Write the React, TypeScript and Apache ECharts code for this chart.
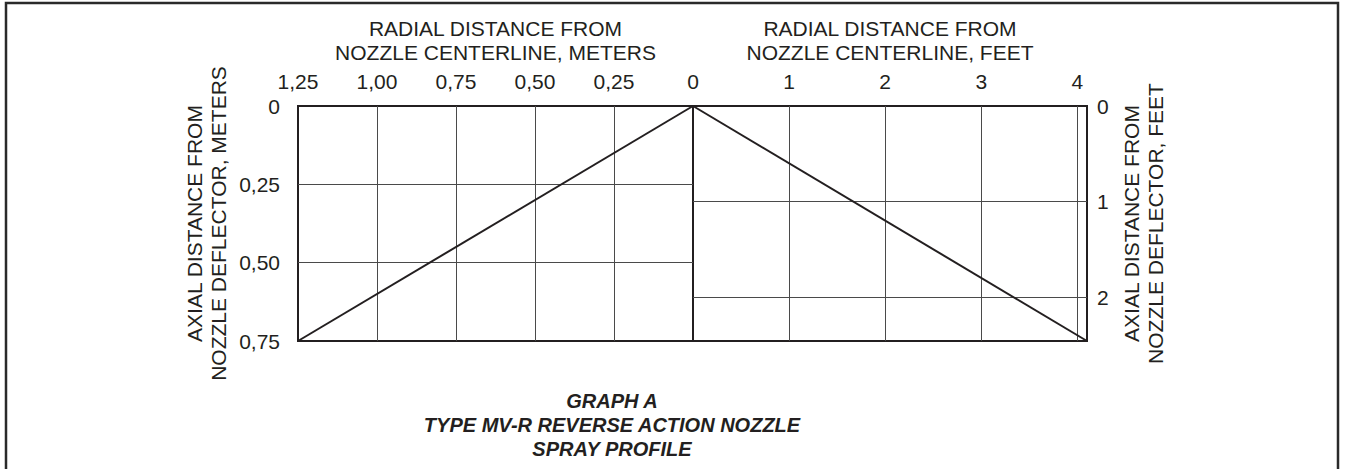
import React, { useEffect, useRef } from "react";
import * as echarts from "echarts";

// ---- data ----
const meterRadialMax = 1.25;
const meterAxialMax = 0.75;
const footRadialMax = 4.1;
const footAxialMax = 2.46;
const meterTickLabels = ["0", "0,25", "0,50", "0,75", "1,00", "1,25"];
const footTickLabels = ["0", "1", "2", "3", "4"];
const sprayMeters = [
  [0, 0],
  [1.25, 0.75],
];
const sprayFeet = [
  [0, 0],
  [4.1, 2.46],
];
const titleLines = ["GRAPH A", "TYPE MV-R REVERSE ACTION NOZZLE", "SPRAY PROFILE"];

const INK = "#231f20";
const GRIDLINE = "#4a4a4a";
const FONT = "'Liberation Sans', Arial, Helvetica, sans-serif";

function meterLabel(v: number): string {
  const i = Math.round(v / 0.25);
  if (Math.abs(v - i * 0.25) > 1e-6) return "";
  return meterTickLabels[i] ?? "";
}
function footLabel(v: number): string {
  const i = Math.round(v);
  if (Math.abs(v - i) > 1e-6) return "";
  return footTickLabels[i] ?? "";
}

export default function App() {
  const ref = useRef<HTMLDivElement>(null);
  useEffect(() => {
    if (!ref.current) return;
    const chart = echarts.init(ref.current, undefined, { renderer: "svg" });
    const labelStyle = { fontSize: 21, color: INK, fontFamily: FONT };
    const nameStyle = { fontSize: 21, color: INK, fontFamily: FONT, lineHeight: 24 };
    const split = {
      show: true,
      showMinLine: false,
      showMaxLine: false,
      lineStyle: { color: GRIDLINE, width: 1 },
    };
    chart.setOption({
      animation: false,
      backgroundColor: "#ffffff",
      grid: [
        { left: 298, top: 106, width: 395, height: 235, show: true, borderColor: INK, borderWidth: 2, backgroundColor: "transparent" },
        { left: 693, top: 106, width: 394, height: 235, show: true, borderColor: INK, borderWidth: 2, backgroundColor: "transparent" },
      ],
      xAxis: [
        {
          type: "value",
          gridIndex: 0,
          position: "top",
          inverse: true,
          min: 0,
          max: meterRadialMax,
          interval: 0.25,
          axisLine: { show: false },
          axisTick: { show: false },
          splitLine: split,
          axisLabel: {
            ...labelStyle,
            margin: 14,
            formatter: (v: number) => (v === 0 ? "" : meterLabel(v)),
          },
          name: "RADIAL DISTANCE FROM\nNOZZLE CENTERLINE, METERS",
          nameLocation: "middle",
          nameGap: 42,
          nameTextStyle: nameStyle,
        },
        {
          type: "value",
          gridIndex: 1,
          position: "top",
          min: 0,
          max: footRadialMax,
          interval: 1,
          axisLine: { show: false },
          axisTick: { show: false },
          splitLine: split,
          axisLabel: { ...labelStyle, margin: 14, formatter: (v: number) => footLabel(v) },
          name: "RADIAL DISTANCE FROM\nNOZZLE CENTERLINE, FEET",
          nameLocation: "middle",
          nameGap: 42,
          nameTextStyle: nameStyle,
        },
      ],
      yAxis: [
        {
          type: "value",
          gridIndex: 0,
          position: "left",
          inverse: true,
          min: 0,
          max: meterAxialMax,
          interval: 0.25,
          axisLine: { show: false },
          axisTick: { show: false },
          splitLine: split,
          axisLabel: { ...labelStyle, margin: 18, formatter: (v: number) => meterLabel(v) },
          name: "AXIAL DISTANCE FROM\nNOZZLE DEFLECTOR, METERS",
          nameLocation: "middle",
          nameRotate: 90,
          nameGap: 68,
          nameTextStyle: nameStyle,
        },
        {
          type: "value",
          gridIndex: 1,
          position: "right",
          inverse: true,
          min: 0,
          max: footAxialMax,
          interval: 1,
          axisLine: { show: false },
          axisTick: { show: false },
          splitLine: split,
          axisLabel: { ...labelStyle, margin: 10, formatter: (v: number) => footLabel(v) },
          name: "AXIAL DISTANCE FROM\nNOZZLE DEFLECTOR, FEET",
          nameLocation: "middle",
          nameRotate: 90,
          nameGap: 32,
          nameTextStyle: nameStyle,
        },
      ],
      series: [
        {
          type: "line",
          xAxisIndex: 0,
          yAxisIndex: 0,
          data: sprayMeters,
          symbol: "none",
          lineStyle: { color: INK, width: 2 },
          z: 5,
        },
        {
          type: "line",
          xAxisIndex: 1,
          yAxisIndex: 1,
          data: sprayFeet,
          symbol: "none",
          lineStyle: { color: INK, width: 2 },
          z: 5,
        },
      ],
      graphic: [
        {
          type: "rect",
          shape: { x: 6, y: 3, width: 1332, height: 480 },
          style: { fill: "none", stroke: "#2a2a2a", lineWidth: 2.5 },
          silent: true,
        },
        {
          type: "text",
          x: 612,
          y: 389,
          style: {
            text: titleLines.join("\n"),
            fill: INK,
            font: `italic bold 20px ${FONT}`,
            lineHeight: 24,
            textAlign: "center",
            textVerticalAlign: "top",
          },
        },
      ],
    });
    return () => chart.dispose();
  }, []);
  return (
    <div
      ref={ref}
      style={{ position: "absolute", left: 0, top: 0, width: 1348, height: 469, background: "#fff" }}
    />
  );
}
